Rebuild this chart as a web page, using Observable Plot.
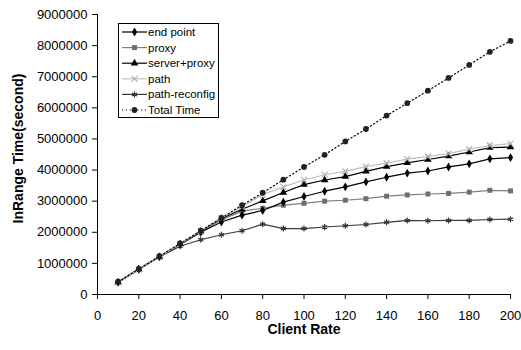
<!DOCTYPE html>
<html><head><meta charset="utf-8">
<script src="https://cdn.jsdelivr.net/npm/d3@7"></script>
<script src="https://cdn.jsdelivr.net/npm/@observablehq/plot@0.6"></script>
<style>body{margin:0;background:#fff} svg{display:block}</style>
</head><body><div id="chart"></div>
<script>
const clientRate = [10,20,30,40,50,60,70,80,90,100,110,120,130,140,150,160,170,180,190,200];
const endPoint = [390000,810000,1210000,1610000,2000000,2330000,2550000,2700000,2970000,3150000,3320000,3460000,3620000,3770000,3900000,3970000,4100000,4200000,4360000,4400000];
const proxy = [390000,810000,1210000,1610000,2010000,2400000,2680000,2770000,2870000,2930000,3000000,3030000,3080000,3160000,3200000,3230000,3250000,3290000,3350000,3330000];
const serverProxy = [390000,810000,1210000,1620000,2030000,2440000,2740000,3010000,3280000,3530000,3680000,3790000,3960000,4110000,4230000,4340000,4450000,4580000,4720000,4740000];
const path = [390000,810000,1210000,1620000,2040000,2460000,2820000,3210000,3460000,3680000,3850000,3960000,4110000,4220000,4350000,4430000,4530000,4670000,4790000,4850000];
const pathReconfig = [390000,810000,1210000,1550000,1760000,1920000,2050000,2260000,2120000,2120000,2170000,2210000,2250000,2320000,2380000,2370000,2380000,2380000,2410000,2420000];
const totalTime = [410000,820000,1230000,1640000,2050000,2460000,2870000,3270000,3690000,4100000,4490000,4920000,5320000,5750000,6150000,6550000,6960000,7380000,7800000,8150000];
const seriesNames = ["end point","proxy","server+proxy","path","path-reconfig","Total Time"];
const xTicks = [0,20,40,60,80,100,120,140,160,180,200];
const yTicks = [0,1000000,2000000,3000000,4000000,5000000,6000000,7000000,8000000,9000000];
const xLabel = "Client Rate";
const yLabel = "InRange Time(second)";

const seriesValues = [endPoint, proxy, serverProxy, path, pathReconfig, totalTime];
const styles = [
  {line:"#000", symbol:"diamond", fill:"#000", r:2.7},
  {line:"#808080", symbol:"square", fill:"#6e6e6e", r:2.8},
  {line:"#000", symbol:"triangle", fill:"#000", r:2.8},
  {line:"#c0c0c0", symbol:"times", stroke:"#b4b4b4", r:2.8},
  {line:"#3a3a3a", symbol:"asterisk", stroke:"#333", r:2.8},
  {line:"#000", symbol:"circle", fill:"#222", r:2.9, dash:"1.2,2.6"}
];
const rows = seriesNames.map((name, i) => clientRate.map((x, j) => ({series:name, x, y:seriesValues[i][j]})));
const drawOrder = [4,1,0,2,3,5];

const marks = [
  Plot.axisX({ticks:xTicks, tickSize:5, tickPadding:11, label:null}),
  Plot.axisY({ticks:yTicks, tickSize:5, tickPadding:5, tickFormat:d3.format("d"), label:null}),
  Plot.ruleX([0]),
  Plot.ruleY([0])
];
for (const i of drawOrder) {
  const s = styles[i];
  marks.push(Plot.line(rows[i], {x:"x", y:"y", stroke:s.line, strokeWidth:1.2, strokeDasharray:s.dash}));
}
for (const i of drawOrder) {
  const s = styles[i];
  marks.push(Plot.dot(rows[i], {x:"x", y:"y", symbol:()=>s.symbol, r:s.r, fill:s.fill || "none", stroke:s.stroke || "none", strokeWidth:1.2}));
}
marks.push(Plot.text([xLabel], {text:d=>d, frameAnchor:"bottom", dy:30, lineAnchor:"top", fontWeight:"bold", fontSize:14, textAnchor:"middle"}));
marks.push(Plot.text([yLabel], {text:d=>d, frameAnchor:"left", rotate:-90, dx:-79, dy:-6, fontWeight:"bold", fontSize:14, textAnchor:"middle"}));

const chart = Plot.plot({
  width:521, height:350,
  marginLeft:97, marginRight:11, marginTop:14, marginBottom:56,
  style:{fontFamily:"'Liberation Sans', Arial, sans-serif", fontSize:"13px", background:"#fff", color:"#000"},
  x:{domain:[0,200], label:null},
  y:{domain:[0,9000000], label:null},
  symbol:{type:"identity"},
  marks
});
document.getElementById("chart").append(chart);

// legend
const svg = d3.select(chart);
const lg = svg.append("g").attr("font-family","'Liberation Sans', Arial, sans-serif").attr("font-size","11.5px").attr("text-anchor","start");
lg.append("rect").attr("x",118.5).attr("y",23.5).attr("width",100).attr("height",94).attr("fill","#fff").attr("stroke","#000");
const symMap = {diamond:d3.symbolDiamond, square:d3.symbolSquare, triangle:d3.symbolTriangle, times:d3.symbolTimes, asterisk:d3.symbolAsterisk, circle:d3.symbolCircle};
seriesNames.forEach((name, i) => {
  const s = styles[i];
  const cy = 32 + i * 15.6;
  lg.append("line").attr("x1",122).attr("x2",147).attr("y1",cy).attr("y2",cy)
    .attr("stroke",s.line).attr("stroke-width",1.2).attr("stroke-dasharray",s.dash || null);
  lg.append("path").attr("transform",`translate(134.5,${cy})`)
    .attr("d", d3.symbol(symMap[s.symbol], Math.PI*s.r*s.r)())
    .attr("fill", s.fill || "none").attr("stroke", s.stroke || "none").attr("stroke-width",1.2);
  lg.append("text").attr("x",148).attr("y",cy).attr("dy","0.35em").attr("text-anchor","start").attr("fill","#000").text(name);
});
</script></body></html>
